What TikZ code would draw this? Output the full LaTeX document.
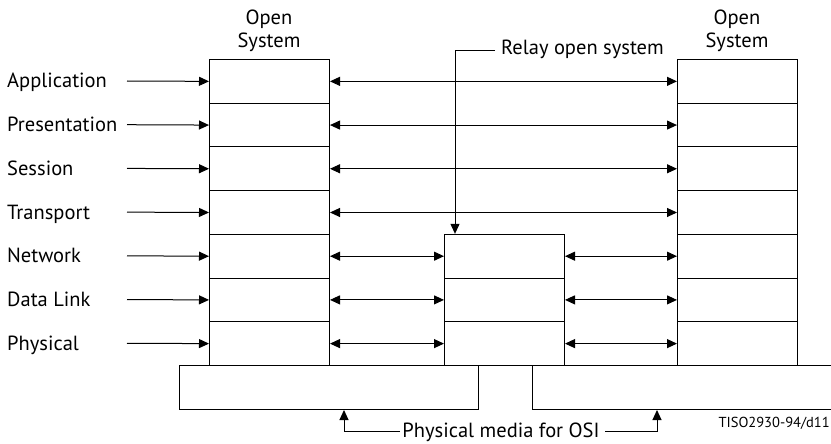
\documentclass[tikz,border=0pt]{standalone}
\usepackage{fontspec}
\setmainfont{PT Sans}
\usetikzlibrary{arrows.meta}
\begin{document}
\begin{tikzpicture}[x=1pt,y=-1pt,
  every node/.style={inner sep=0pt, font=\fontsize{20.5}{24}\selectfont},
  layer/.style={draw, line width=1pt, minimum width=120pt, minimum height=43.71pt, anchor=north west},
  media/.style={draw, line width=1pt, minimum width=299pt, minimum height=44pt, anchor=north west},
  lab/.style={anchor=base west},
  arr/.style={line width=1pt, -{Triangle[length=10pt,width=9pt]}},
  darr/.style={line width=1pt, {Triangle[length=10pt,width=9pt]}-{Triangle[length=10pt,width=9pt]}}]
\useasboundingbox (0,0) rectangle (831,444);
% stacks
\foreach \i in {1,...,7} {
  \node[layer] (L\i) at (209,{59+(\i-1)*43.71}) {};
  \node[layer] (R\i) at (677,{59+(\i-1)*43.71}) {};
}
\foreach \i in {5,6,7} {
  \node[layer] (M\i) at (444,{59+(\i-1)*43.71}) {};
}
% media
\node[media] (PM1) at (179,365) {};
\node[media] (PM2) at (532,365) {};
% headings
\node[anchor=base] (os1) at (269,25) {Open};
\node[anchor=base] (os2) at (269,48) {System};
\node[anchor=base] (os3) at (737,25) {Open};
\node[anchor=base] (os4) at (737,48) {System};
% layer labels
\foreach \i/\t in {1/Application,2/Presentation,3/Session,4/Transport,5/Network,6/Data Link,7/Physical} {
  \node[lab] (t\i) at (7,{88+(\i-1)*43.71}) {\t};
  \coordinate (s\i) at (127,{81+(\i-1)*43.71});
  \draw[arr] (s\i) -- (L\i.west);
}
% peer arrows
\foreach \i in {1,...,4} { \draw[darr] (L\i.east) -- (R\i.west); }
\foreach \i in {5,6,7} {
  \draw[darr] (L\i.east) -- (M\i.west);
  \draw[darr] (M\i.east) -- (R\i.west);
}
% relay label
\node[lab] (relay) at (501,55) {Relay open system};
\coordinate (rx) at (455,0);
\coordinate (ry) at (495,51);
\draw[arr] (ry) -| (M5.north -| rx);
% physical media label
\node[anchor=base] (pm) at (501,437) {Physical media for OSI};
\coordinate (pa) at (344,0);
\coordinate (pb) at (657,0);
\coordinate (pl) at (400,431);
\coordinate (pr) at (605,431);
\draw[arr] (pl) -| (PM1.south -| pa);
\draw[arr] (pr) -| (PM2.south -| pb);
% code
\node[anchor=base east, font=\fontsize{14.5}{16}\selectfont] (code) at (830,427) {TISO2930-94/d11};
\end{tikzpicture}
\end{document}
